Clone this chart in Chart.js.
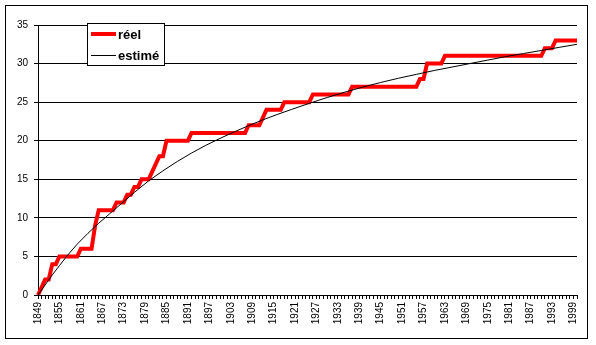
<!DOCTYPE html>
<html>
<head>
<meta charset="utf-8">
<script src="https://cdn.jsdelivr.net/npm/chart.js@4.4.1/dist/chart.umd.min.js"></script>
<style>
  html, body { margin: 0; padding: 0; background: #fff; }
  canvas { display: block; }
</style>
</head>
<body>
<canvas id="chart" width="596" height="345"></canvas>
<script>
// years on the category axis
const firstYear = 1849;
const lastYear = 2000;
const years = [];
for (let y = firstYear; y <= lastYear; y++) years.push(String(y));

// labels shown under the axis
const tickLabels = ['1849', '1855', '1861', '1867', '1873', '1879', '1885', '1891', '1897', '1903',
  '1909', '1915', '1921', '1927', '1933', '1939', '1945', '1951', '1957', '1963', '1969', '1975',
  '1981', '1987', '1993', '1999'];

// "réel" : one value per year, 1849 -> 2000
const reel = [
  0, 1, 2, 2, 4, 4, 5, 5, 5, 5,            // 1849-1858
  5, 5, 6, 6, 6, 6, 9, 11, 11, 11,         // 1859-1868
  11, 11, 12, 12, 12, 13, 13, 14, 14, 15,  // 1869-1878
  15, 15, 16, 17, 18, 18, 20, 20, 20, 20,  // 1879-1888
  20, 20, 20, 21, 21, 21, 21, 21, 21, 21,  // 1889-1898
  21, 21, 21, 21, 21, 21, 21, 21, 21, 22,  // 1899-1908
  22, 22, 22, 23, 24, 24, 24, 24, 24, 25,  // 1909-1918
  25, 25, 25, 25, 25, 25, 25, 26, 26, 26,  // 1919-1928
  26, 26, 26, 26, 26, 26, 26, 26, 27, 27,  // 1929-1938
  27, 27, 27, 27, 27, 27, 27, 27, 27, 27,  // 1939-1948
  27, 27, 27, 27, 27, 27, 27, 28, 28, 30,  // 1949-1958
  30, 30, 30, 30, 31, 31, 31, 31, 31, 31,  // 1959-1968
  31, 31, 31, 31, 31, 31, 31, 31, 31, 31,  // 1969-1978
  31, 31, 31, 31, 31, 31, 31, 31, 31, 31,  // 1979-1988
  31, 31, 32, 32, 32, 33, 33, 33, 33, 33,  // 1989-1998
  33, 33                                   // 1999-2000
];

// "estimé" : at these years
const estYears = [1849, 1851, 1853, 1855, 1857, 1860, 1863, 1866, 1869, 1872, 1876, 1880, 1884,
  1888, 1892, 1896, 1900, 1904, 1908, 1912, 1916, 1920, 1925, 1930, 1935, 1940, 1945, 1950,
  1955, 1960, 1965, 1970, 1975, 1980, 1985, 1990, 1995, 2000];
const estValues = [0, 1.3, 2.6, 3.8, 5.0, 6.6, 8.0, 9.3, 10.5, 11.7, 13.3, 14.8, 16.1,
  17.3, 18.4, 19.4, 20.3, 21.15, 21.95, 22.7, 23.4, 24.05, 24.85, 25.6, 26.3, 26.95, 27.55, 28.1,
  28.6, 29.1, 29.55, 30.0, 30.45, 30.9, 31.3, 31.7, 32.1, 32.5];

const FONT = 'Arial, "Liberation Sans", sans-serif';

// white background + frame + floating legend box
const frameAndLegend = {
  id: 'frameAndLegend',
  beforeDraw(chart) {
    const c = chart.ctx;
    c.save();
    c.fillStyle = '#fff';
    c.fillRect(0, 0, chart.width, chart.height);
    c.strokeStyle = '#000';
    c.lineWidth = 1;
    c.strokeRect(5.5, 5.5, 582, 333);
    c.restore();
  },
  afterDraw(chart) {
    const c = chart.ctx;
    c.save();
    c.fillStyle = '#fff';
    c.fillRect(87.5, 23.5, 77, 42);
    c.strokeStyle = '#000';
    c.lineWidth = 1;
    c.strokeRect(87.5, 23.5, 77, 42);
    const rows = [34, 55];
    chart.data.datasets.forEach((ds, i) => {
      const y = rows[i];
      c.beginPath();
      c.strokeStyle = ds.borderColor;
      c.lineWidth = ds.borderWidth;
      c.moveTo(91, y + (ds.borderWidth % 2 ? 0.5 : 0));
      c.lineTo(116, y + (ds.borderWidth % 2 ? 0.5 : 0));
      c.stroke();
      c.fillStyle = '#000';
      c.font = 'bold 13px ' + FONT;
      c.textBaseline = 'middle';
      c.fillText(ds.label, 118, y + 1);
    });
    c.restore();
  }
};

new Chart(document.getElementById('chart'), {
  type: 'line',
  data: {
    labels: years,
    datasets: [{
      label: 'réel',
      data: reel,
      borderColor: '#ff0000',
      borderWidth: 4,
      pointRadius: 0,
      tension: 0,
      order: 1
    }, {
      label: 'estimé',
      data: estYears.map((y, i) => ({ x: String(y), y: estValues[i] })),
      borderColor: '#000000',
      borderWidth: 1,
      pointRadius: 0,
      tension: 0,
      order: 0
    }]
  },
  options: {
    responsive: false,
    animation: false,
    layout: { padding: { left: 5, top: 25, right: 19, bottom: 0 } },
    plugins: {
      legend: { display: false },
      tooltip: { enabled: false }
    },
    scales: {
      x: {
        type: 'category',
        offset: false,
        afterFit: s => { s.height = 50; },
        border: { color: '#000', width: 1 },
        grid: {
          display: true,
          drawOnChartArea: false,
          drawTicks: true,
          tickLength: 4,
          color: '#000',
          offset: false
        },
        ticks: {
          autoSkip: false,
          minRotation: 90,
          maxRotation: 90,
          padding: 3,
          color: '#000',
          font: { family: FONT, size: 10 },
          callback: function (value) {
            const lab = this.getLabelForValue(value);
            return tickLabels.includes(lab) ? lab : '';
          }
        }
      },
      y: {
        min: 0,
        max: 35,
        afterFit: s => { s.width = 33; },
        border: { color: '#000', width: 1 },
        grid: { color: '#000', lineWidth: 1, tickLength: 4 },
        ticks: {
          stepSize: 5,
          padding: 6,
          color: '#000',
          font: { family: FONT, size: 10 }
        }
      }
    }
  },
  plugins: [frameAndLegend]
});
</script>
</body>
</html>
